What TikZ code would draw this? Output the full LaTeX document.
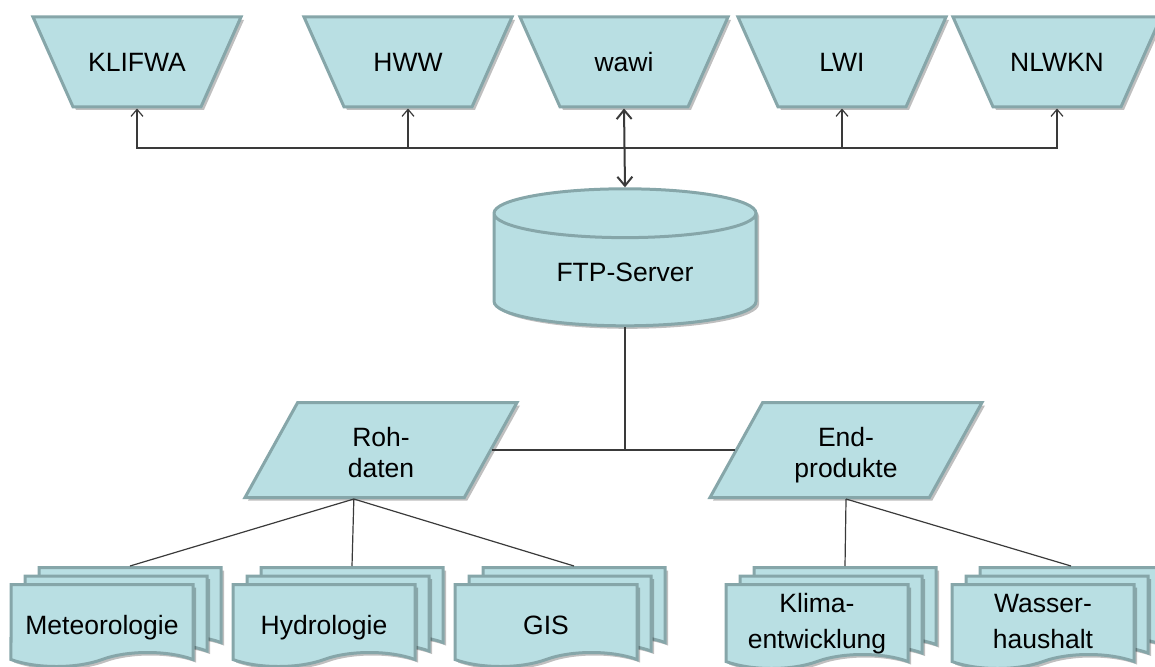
\documentclass[tikz,border=0pt]{standalone}
\usepackage{fontspec}
\setmainfont{Liberation Sans}
\usetikzlibrary{shapes.geometric, shapes.symbols, shadows, arrows.meta}
\definecolor{boxfill}{HTML}{B9DFE3}
\definecolor{boxline}{HTML}{86A6A9}
\definecolor{wirecol}{HTML}{3A3A3A}

\begin{document}
\begin{tikzpicture}[x=1pt, y=-1pt,
    font=\fontsize{26.5}{31}\selectfont,
    softshadow/.style={drop shadow={shadow xshift=3pt, shadow yshift=-3pt, fill=black, opacity=.25}},
    sourcebox/.style={trapezium, shape border rotate=180, trapezium left angle=66, trapezium right angle=66,
                      trapezium stretches body, minimum width=208pt, text height=24pt, text depth=5pt,
                      inner xsep=0pt, inner ysep=30.5pt,
                      draw=boxline, line width=3pt, fill=boxfill, softshadow},
    serverbox/.style={cylinder, shape border rotate=90, aspect=0.34, minimum width=262pt, minimum height=137pt,
                      text height=22pt, text depth=5pt,
                      draw=boxline, line width=3pt, fill=boxfill, softshadow},
    databox/.style={trapezium, trapezium left angle=61, trapezium right angle=119, trapezium stretches body,
                    minimum width=272pt, text height=61pt, text depth=6pt, inner xsep=0pt, inner ysep=14pt,
                    align=center, draw=boxline, line width=3pt, fill=boxfill, softshadow},
    docstack/.style={tape, tape bend top=none, tape bend bottom=in and out, tape bend height=14pt,
                     minimum width=182pt, minimum height=82pt, inner sep=0pt, align=center,
                     text height=38pt, text depth=6pt,
                     draw=boxline, line width=3pt, fill=boxfill,
                     general shadow={shadow xshift=31pt, shadow yshift=14pt, fill=black, opacity=.25},
                     general shadow={shadow xshift=28pt, shadow yshift=17pt, fill=boxfill, draw=boxline, line width=3pt},
                     general shadow={shadow xshift=17pt, shadow yshift=5.5pt, fill=black, opacity=.25},
                     general shadow={shadow xshift=14pt, shadow yshift=8.5pt, fill=boxfill, draw=boxline, line width=3pt},
                     general shadow={shadow xshift=3pt, shadow yshift=-3pt, fill=black, opacity=.25}},
    twolines/.style={font=\fontsize{26.5}{36}\selectfont, text height=64pt, text depth=6pt},
    wire/.style={draw=wirecol, line width=1.2pt},
    arrow/.style={wire, ->, >={Straight Barb[length=7pt, width=12pt]}},
    twoway/.style={wire, line width=2pt, <->, >={Straight Barb[length=9pt, width=15pt]}}]

    \useasboundingbox (0,0) rectangle (1155,666);

    % Nodes - sources on top
    \node[sourcebox] (klifwa) at (137,62) {KLIFWA};
    \node[sourcebox] (hww) at (408,62) {HWW};
    \node[sourcebox] (wawi) at (624,62) {wawi};
    \node[sourcebox] (lwi) at (842,62) {LWI};
    \node[sourcebox] (nlwkn) at (1057,62) {NLWKN};
    \node[serverbox] (ftp) at (625,273) {FTP-Server};
    \node[databox] (roh) at (381,450) {Roh-\\daten};
    \node[databox] (endp) at (846,450) {End-\\produkte};
    \node[docstack, anchor=north] (met) at (102,583) {Meteorologie};
    \node[docstack, anchor=north] (hyd) at (324,583) {Hydrologie};
    \node[docstack, anchor=north] (gis) at (546,583) {GIS};
    \node[docstack, twolines, anchor=north] (klima) at (817,583) {Klima-\\entwicklung};
    \node[docstack, twolines, anchor=north] (wasser) at (1043,583) {Wasser-\\haushalt};

    % Coordinates for the loose ends
    \coordinate (bus) at (624,148);
    \coordinate (mettop) at ([shift={(28,-17)}]met.north);
    \coordinate (hydtop) at ([shift={(28,-17)}]hyd.north);
    \coordinate (gistop) at ([shift={(28,-17)}]gis.north);
    \coordinate (klimatop) at ([shift={(28,-17)}]klima.north);
    \coordinate (wassertop) at ([shift={(28,-17)}]wasser.north);

    % Arrows
    \draw[arrow] (bus) -| (klifwa.south);
    \draw[arrow] (bus) -| (hww.south);
    \draw[arrow] (bus) -| (lwi.south);
    \draw[arrow] (bus) -| (nlwkn.south);
    \draw[twoway] (wawi.south) -- (ftp.north);
    \draw[wire] (ftp.south) |- (roh.right side);
    \draw[wire] (ftp.south) |- (endp.left side);
    \draw[wire] (roh.bottom side) -- (mettop);
    \draw[wire] (roh.bottom side) -- (hydtop);
    \draw[wire] (roh.bottom side) -- (gistop);
    \draw[wire] (endp.south) -- (klimatop);
    \draw[wire] (endp.south) -- (wassertop);

\end{tikzpicture}
\end{document}
